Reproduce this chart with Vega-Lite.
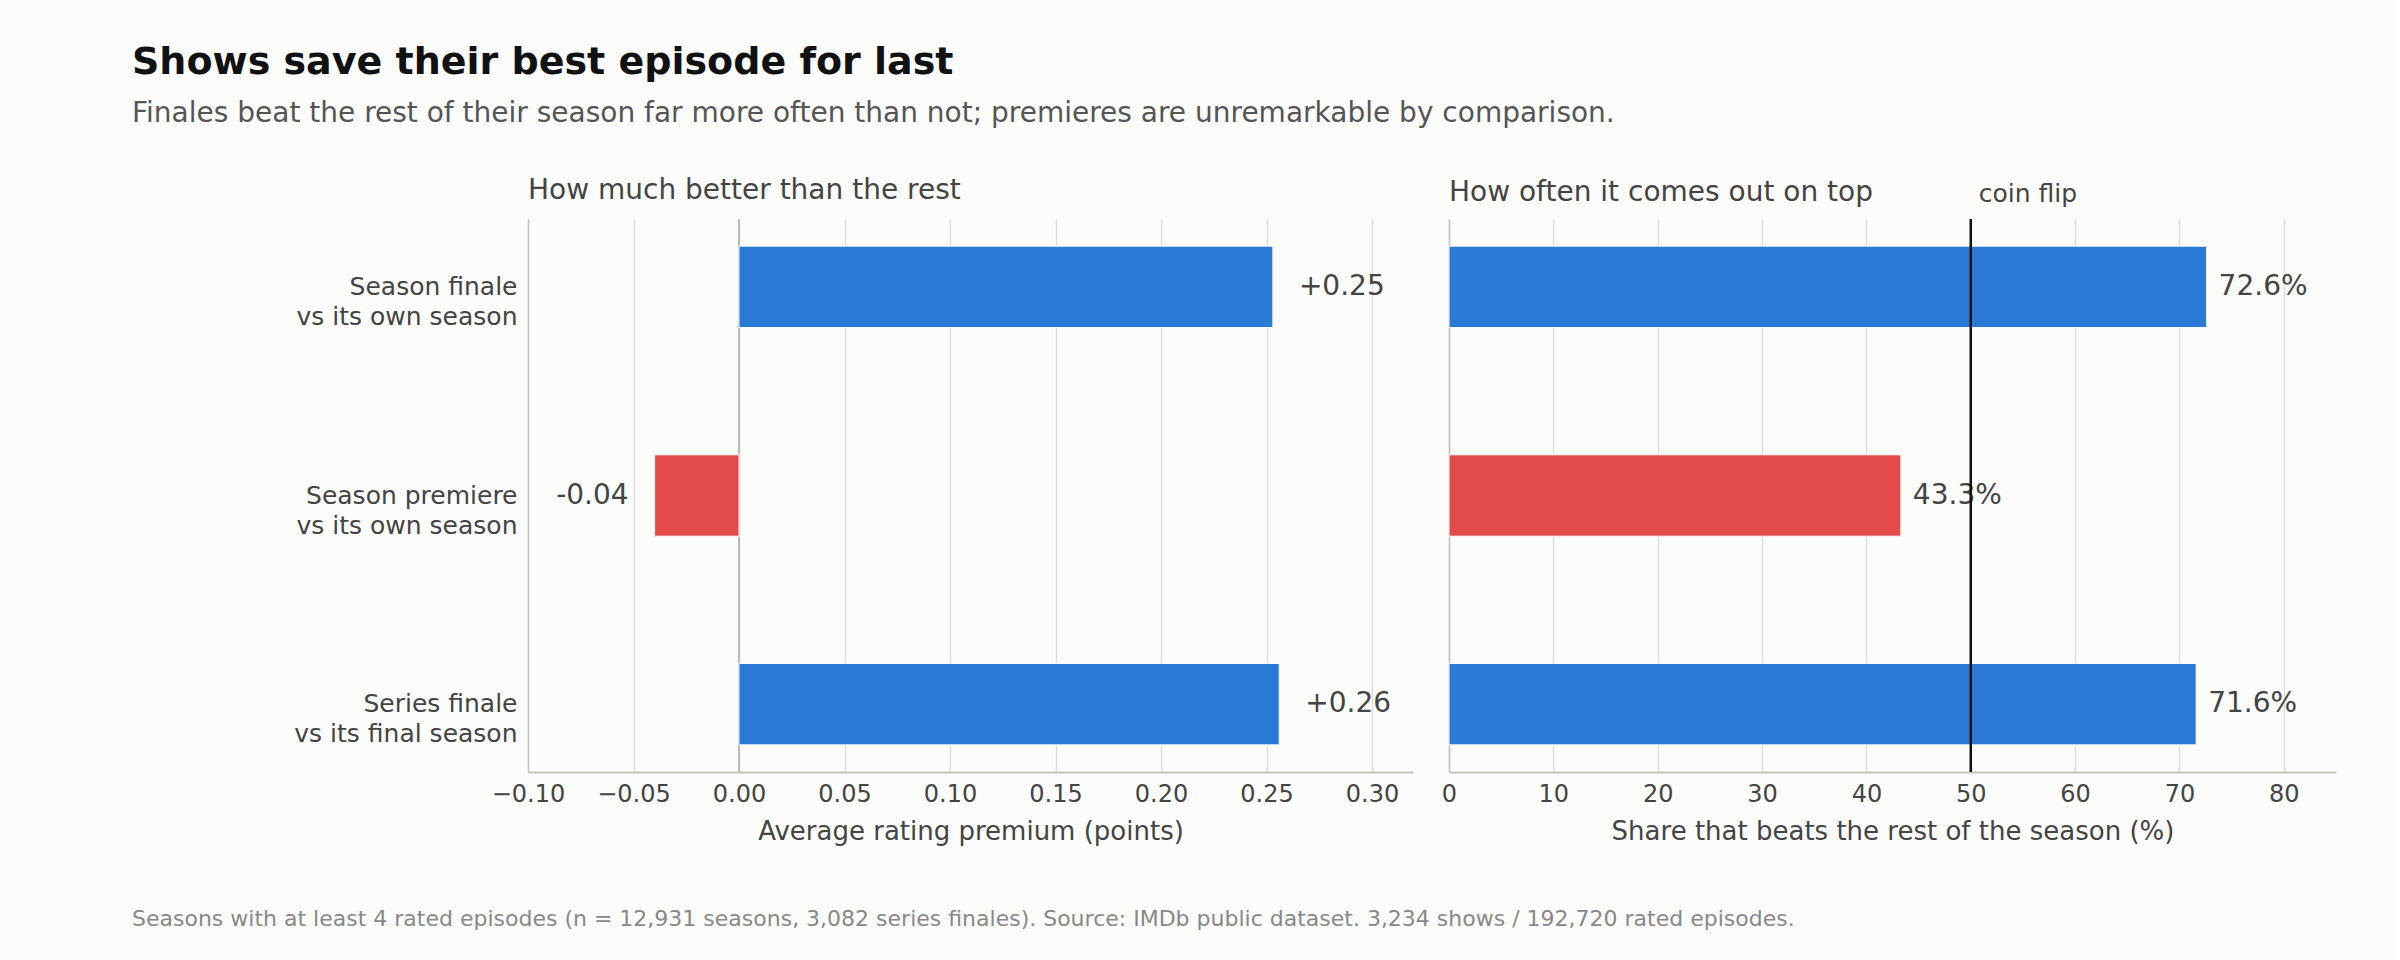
{
  "$schema": "https://vega.github.io/schema/vega-lite/v6.json",
  "background": "#fcfcfb",
  "padding": {"left": 132, "top": 44, "right": 60, "bottom": 37},
  "config": {
    "font": "DejaVu Sans",
    "view": {"stroke": null},
    "axis": {
      "labelFont": "DejaVu Sans",
      "labelFontSize": 24,
      "labelColor": "#444",
      "labelOverlap": false,
      "labelFlush": false,
      "titleFont": "DejaVu Sans",
      "titleFontSize": 26,
      "titleColor": "#444",
      "titleFontWeight": "normal",
      "domainColor": "#c4c4bc",
      "domainWidth": 2,
      "ticks": false,
      "gridColor": "#dededa",
      "gridWidth": 1.5
    }
  },
  "datasets": {
    "episodes": [
      {"comparison": "Season finale|vs its own season", "premium": 0.253, "premium_label": "+0.25", "share": 72.6, "share_label": "72.6%"},
      {"comparison": "Season premiere|vs its own season", "premium": -0.04, "premium_label": "-0.04", "share": 43.3, "share_label": "43.3%"},
      {"comparison": "Series finale|vs its final season", "premium": 0.256, "premium_label": "+0.26", "share": 71.6, "share_label": "71.6%"}
    ]
  },
  "title": {
    "text": "Seasons with at least 4 rated episodes (n = 12,931 seasons, 3,082 series finales). Source: IMDb public dataset. 3,234 shows / 192,720 rated episodes.",
    "orient": "bottom",
    "anchor": "start",
    "fontSize": 22,
    "fontWeight": "normal",
    "color": "#888",
    "offset": 65
  },
  "vconcat": [
    {
      "title": {
        "text": "Shows save their best episode for last",
        "subtitle": "Finales beat the rest of their season far more often than not; premieres are unremarkable by comparison.",
        "anchor": "start",
        "fontSize": 38,
        "fontWeight": "bold",
        "color": "#111",
        "subtitleFontSize": 28,
        "subtitleColor": "#555",
        "subtitlePadding": 18,
        "offset": 49
      },
      "spacing": 28,
      "hconcat": [
        {
          "width": 885,
          "height": 553,
          "title": {"text": "How much better than the rest", "anchor": "start", "frame": "group", "fontSize": 28, "fontWeight": "normal", "color": "#444", "baseline": "alphabetic", "offset": -9},
          "layer": [
            {
              "data": {"values": [{"baseline": 0}]},
              "mark": {"type": "rule", "color": "#bcbcb4", "strokeWidth": 2},
              "encoding": {"x": {"field": "baseline", "type": "quantitative"}}
            },
            {
              "data": {"name": "episodes"},
              "mark": {"type": "bar", "stroke": "#fcfcfb", "strokeWidth": 1},
              "encoding": {
                "y": {
                  "field": "comparison", "type": "nominal", "sort": null,
                  "scale": {"paddingInner": 0.61, "paddingOuter": 0.13},
                  "axis": {"title": null, "labelExpr": "split(datum.label, '|')", "labelPadding": 11, "labelFontSize": 25, "labelLineHeight": 30, "labelLimit": 400, "minExtent": 396, "maxExtent": 396, "domainWidth": 1.5}
                },
                "x": {
                  "field": "premium", "type": "quantitative",
                  "scale": {"domain": [-0.1, 0.3194], "nice": false, "zero": false},
                  "axis": {"title": "Average rating premium (points)", "values": [-0.1, -0.05, 0, 0.05, 0.1, 0.15, 0.2, 0.25, 0.3], "format": ".2f", "grid": true, "labelPadding": 10, "titlePadding": 12}
                },
                "color": {
                  "field": "comparison", "type": "nominal",
                  "scale": {"domain": ["Season finale|vs its own season", "Season premiere|vs its own season", "Series finale|vs its final season"], "range": ["#2a7ad5", "#e34a4a", "#2a7ad5"]},
                  "legend": null
                }
              }
            },
            {
              "data": {"name": "episodes"},
              "transform": [{"filter": "datum.premium >= 0"}],
              "mark": {"type": "text", "align": "left", "baseline": "middle", "dx": 26, "fontSize": 28, "color": "#444"},
              "encoding": {
                "y": {"field": "comparison", "type": "nominal", "sort": null},
                "x": {"field": "premium", "type": "quantitative"},
                "text": {"field": "premium_label"}
              }
            },
            {
              "data": {"name": "episodes"},
              "transform": [{"filter": "datum.premium < 0"}],
              "mark": {"type": "text", "align": "right", "baseline": "middle", "dx": -26, "fontSize": 28, "color": "#444"},
              "encoding": {
                "y": {"field": "comparison", "type": "nominal", "sort": null},
                "x": {"field": "premium", "type": "quantitative"},
                "text": {"field": "premium_label"}
              }
            }
          ]
        },
        {
          "width": 887,
          "height": 553,
          "title": {"text": "How often it comes out on top", "anchor": "start", "frame": "group", "fontSize": 28, "fontWeight": "normal", "color": "#444", "baseline": "alphabetic", "offset": -47},
          "layer": [
            {
              "data": {"name": "episodes"},
              "mark": {"type": "bar", "stroke": "#fcfcfb", "strokeWidth": 1},
              "encoding": {
                "y": {
                  "field": "comparison", "type": "nominal", "sort": null,
                  "scale": {"paddingInner": 0.61, "paddingOuter": 0.13},
                  "axis": {"title": null, "labels": false, "domainWidth": 1.5, "minExtent": 0, "maxExtent": 0}
                },
                "x": {
                  "field": "share", "type": "quantitative",
                  "scale": {"domain": [0, 85], "nice": false},
                  "axis": {"title": "Share that beats the rest of the season (%)", "values": [0, 10, 20, 30, 40, 50, 60, 70, 80], "grid": true, "labelPadding": 10, "titlePadding": 12}
                },
                "color": {
                  "field": "comparison", "type": "nominal",
                  "scale": {"domain": ["Season finale|vs its own season", "Season premiere|vs its own season", "Series finale|vs its final season"], "range": ["#2a7ad5", "#e34a4a", "#2a7ad5"]},
                  "legend": null
                }
              }
            },
            {
              "data": {"name": "episodes"},
              "mark": {"type": "text", "align": "left", "baseline": "middle", "dx": 12, "fontSize": 28, "color": "#444"},
              "encoding": {
                "y": {"field": "comparison", "type": "nominal", "sort": null},
                "x": {"field": "share", "type": "quantitative"},
                "text": {"field": "share_label"}
              }
            },
            {
              "data": {"values": [{"threshold": 50, "note": "coin flip"}]},
              "mark": {"type": "rule", "color": "#111", "strokeWidth": 2.5},
              "encoding": {"x": {"field": "threshold", "type": "quantitative"}}
            },
            {
              "data": {"values": [{"threshold": 50, "note": "coin flip"}]},
              "mark": {"type": "text", "align": "left", "baseline": "alphabetic", "dx": 8, "dy": -17, "fontSize": 25, "color": "#444"},
              "encoding": {
                "x": {"field": "threshold", "type": "quantitative"},
                "y": {"value": 0},
                "text": {"field": "note"}
              }
            }
          ]
        }
      ]
    }
  ]
}
